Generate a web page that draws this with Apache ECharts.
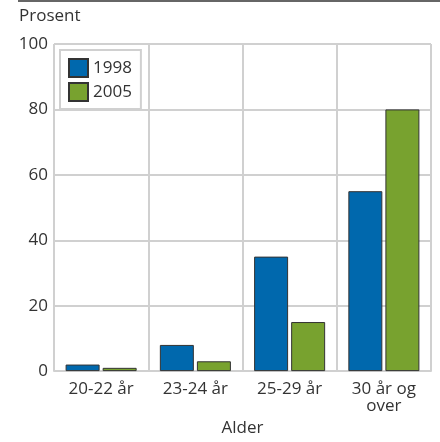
<!DOCTYPE html>
<html><head><meta charset="utf-8">
<script src="https://cdn.jsdelivr.net/npm/echarts@6/dist/echarts.min.js"></script>
<style>html,body{margin:0;padding:0;background:#fff}#c{width:440px;height:442px}</style>
</head><body><div id="c"></div>
<script>
const categories = ['20-22 år', '23-24 år', '25-29 år', '30 år og\nover'];
const values1998 = [2, 8, 35, 55];
const values2005 = [1, 3, 15, 80];
const seriesNames = ['1998', '2005'];
const yTicks = [0, 20, 40, 60, 80, 100];

const font = 'Open Sans';
const chart = echarts.init(document.getElementById('c'), null, {renderer: 'canvas'});
chart.setOption({
  animation: false,
  textStyle: {fontFamily: font},
  graphic: [
    {type: 'rect', shape: {x: 18, y: 0, width: 422, height: 2}, style: {fill: '#666'}},
    {type: 'text', left: 19, top: 8, style: {text: 'Prosent', font: '17px "Open Sans"', fill: '#333'}}
  ],
  grid: {left: 54, right: 9, top: 44, bottom: 52, containLabel: false},
  legend: {
    left: 60, top: 50, orient: 'vertical',
    backgroundColor: '#fff', borderColor: '#d0d0d0', borderWidth: 2,
    padding: [8, 9, 7, 8], itemGap: 4, itemWidth: 19, itemHeight: 18,
    icon: 'rect',
    textStyle: {fontFamily: font, fontSize: 17, color: '#333'},
    data: seriesNames
  },
  xAxis: {
    type: 'category', data: categories,
    name: 'Alder', nameLocation: 'middle', nameGap: 43,
    nameTextStyle: {fontFamily: font, fontSize: 17, color: '#333'},
    axisLine: {show: true, lineStyle: {color: '#d0d0d0', width: 2}},
    axisTick: {show: false},
    axisLabel: {fontFamily: font, fontSize: 17, color: '#333', margin: 10, lineHeight: 17},
    splitLine: {show: true, lineStyle: {color: '#d0d0d0', width: 2}}
  },
  yAxis: {
    type: 'value', min: yTicks[0], max: yTicks[yTicks.length - 1], interval: 20,
    axisLine: {show: false}, axisTick: {show: false},
    axisLabel: {fontFamily: font, fontSize: 17, color: '#333', margin: 6},
    splitLine: {show: true, lineStyle: {color: '#d0d0d0', width: 2}}
  },
  series: [
    {name: seriesNames[0], type: 'bar', data: values1998, barWidth: 34, barGap: '9%',
     itemStyle: {color: '#0068AD', borderColor: '#333', borderWidth: 1}},
    {name: seriesNames[1], type: 'bar', data: values2005, barWidth: 34,
     itemStyle: {color: '#78A22F', borderColor: '#333', borderWidth: 1}}
  ]
});
</script></body></html>
